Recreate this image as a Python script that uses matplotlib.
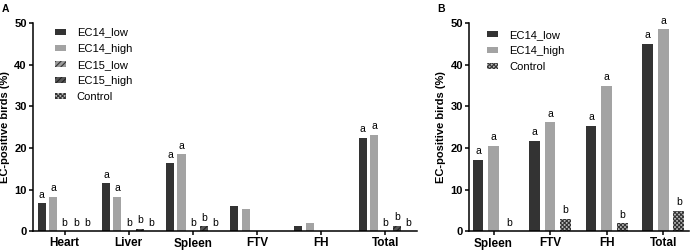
import numpy as np
import matplotlib
matplotlib.use('Agg')
import matplotlib.pyplot as plt

plt.rcParams['font.family'] = ['Liberation Sans', 'DejaVu Sans']
plt.rcParams['hatch.linewidth'] = 0.8

# panel A data
tissues_a = ['Heart', 'Liver', 'Spleen', 'FTV', 'FH', 'Total']
ec14_low_a = [6.7, 11.5, 16.3, 6.1, 1.3, 22.5]
ec14_high_a = [8.2, 8.2, 18.5, 5.4, 2.0, 23.2]
ec15_low_a = [0, 0, 0, 0, 0, 0]
ec15_high_a = [0, 0.6, 1.2, 0, 0, 1.3]
control_a = [0, 0, 0, 0, 0, 0]
letters_a = [['a', 'a', 'b', 'b', 'b'],
             ['a', 'a', 'b', 'b', 'b'],
             ['a', 'a', 'b', 'b', 'b'],
             ['', '', '', '', ''],
             ['', '', '', '', ''],
             ['a', 'a', 'b', 'b', 'b']]

# panel B data
tissues_b = ['Spleen', 'FTV', 'FH', 'Total']
ec14_low_b = [17.1, 21.8, 25.4, 45.1]
ec14_high_b = [20.6, 26.2, 34.9, 48.5]
control_b = [0, 3.0, 1.9, 4.9]
letters_b = [['a', 'a', 'b'],
             ['a', 'a', 'b'],
             ['a', 'a', 'b'],
             ['a', 'a', 'b']]

styles = {
    'EC14_low': dict(color='#333333', edgecolor='none'),
    'EC14_high': dict(color='#a3a3a3', edgecolor='none'),
    'EC15_low': dict(facecolor='#9a9a9a', edgecolor='#333333', hatch='//////', linewidth=0),
    'EC15_high': dict(facecolor='#555555', edgecolor='#222222', hatch='//////', linewidth=0),
    'Control': dict(facecolor='#bbbbbb', edgecolor='#333333', hatch='xxxxxxxx', linewidth=0),
}


def style_axes(ax, labels):
    ax.spines['top'].set_visible(False)
    ax.spines['right'].set_visible(False)
    ax.spines['left'].set_linewidth(1.1)
    ax.spines['bottom'].set_linewidth(1.1)
    ax.set_ylim(0, 50)
    ax.set_yticks([0, 10, 20, 30, 40, 50])
    ax.set_xticks(np.arange(len(labels)))
    ax.set_xticklabels(labels, fontweight='bold', fontsize=8.5)
    for t in ax.get_yticklabels():
        t.set_fontweight('bold')
        t.set_fontsize(8)
    ax.tick_params(length=3, width=1.1, pad=1.5)
    ax.set_ylabel('EC-positive birds (%)', fontweight='bold', fontsize=8, labelpad=3)


leg_kw = dict(loc='upper left', frameon=False, fontsize=8, borderaxespad=0, borderpad=0.2,
              handlelength=1.0, handleheight=0.45, labelspacing=0.55, handletextpad=1.0)

fig = plt.figure(figsize=(6.9, 2.5), dpi=100)

# ---- A
axA = fig.add_axes([0.048, 0.075, 0.556, 0.832])
series_a = [('EC14_low', ec14_low_a), ('EC14_high', ec14_high_a), ('EC15_low', ec15_low_a),
            ('EC15_high', ec15_high_a), ('Control', control_a)]
x = np.arange(len(tissues_a))
step, w = 0.177, 0.125
for i, (name, vals) in enumerate(series_a):
    pos = x + (i - 2) * step
    axA.bar(pos, vals, w, label=name, **styles[name])
    for j, v in enumerate(vals):
        if letters_a[j][i]:
            axA.text(pos[j], v + 0.9, letters_a[j][i], ha='center', va='bottom', fontsize=7.5)
axA.set_xlim(-0.49, 5.49)
style_axes(axA, tissues_a)
axA.legend(bbox_to_anchor=(0.05, 0.99), **leg_kw)

# ---- B
axB = fig.add_axes([0.68, 0.075, 0.318, 0.832])
series_b = [('EC14_low', ec14_low_b), ('EC14_high', ec14_high_b), ('Control', control_b)]
x = np.arange(len(tissues_b))
step, w = 0.275, 0.19
for i, (name, vals) in enumerate(series_b):
    pos = x + (i - 1) * step
    axB.bar(pos, vals, w, label=name, **styles[name])
    for j, v in enumerate(vals):
        if letters_b[j][i]:
            axB.text(pos[j], v + 0.9, letters_b[j][i], ha='center', va='bottom', fontsize=7.5)
axB.set_xlim(-0.43, 3.45)
style_axes(axB, tissues_b)
axB.legend(bbox_to_anchor=(0.07, 0.98), **leg_kw)

fig.text(0.003, 0.985, 'A', fontweight='bold', fontsize=7.5, va='top')
fig.text(0.633, 0.985, 'B', fontweight='bold', fontsize=7.5, va='top')

fig.savefig('out.png', dpi=100)
